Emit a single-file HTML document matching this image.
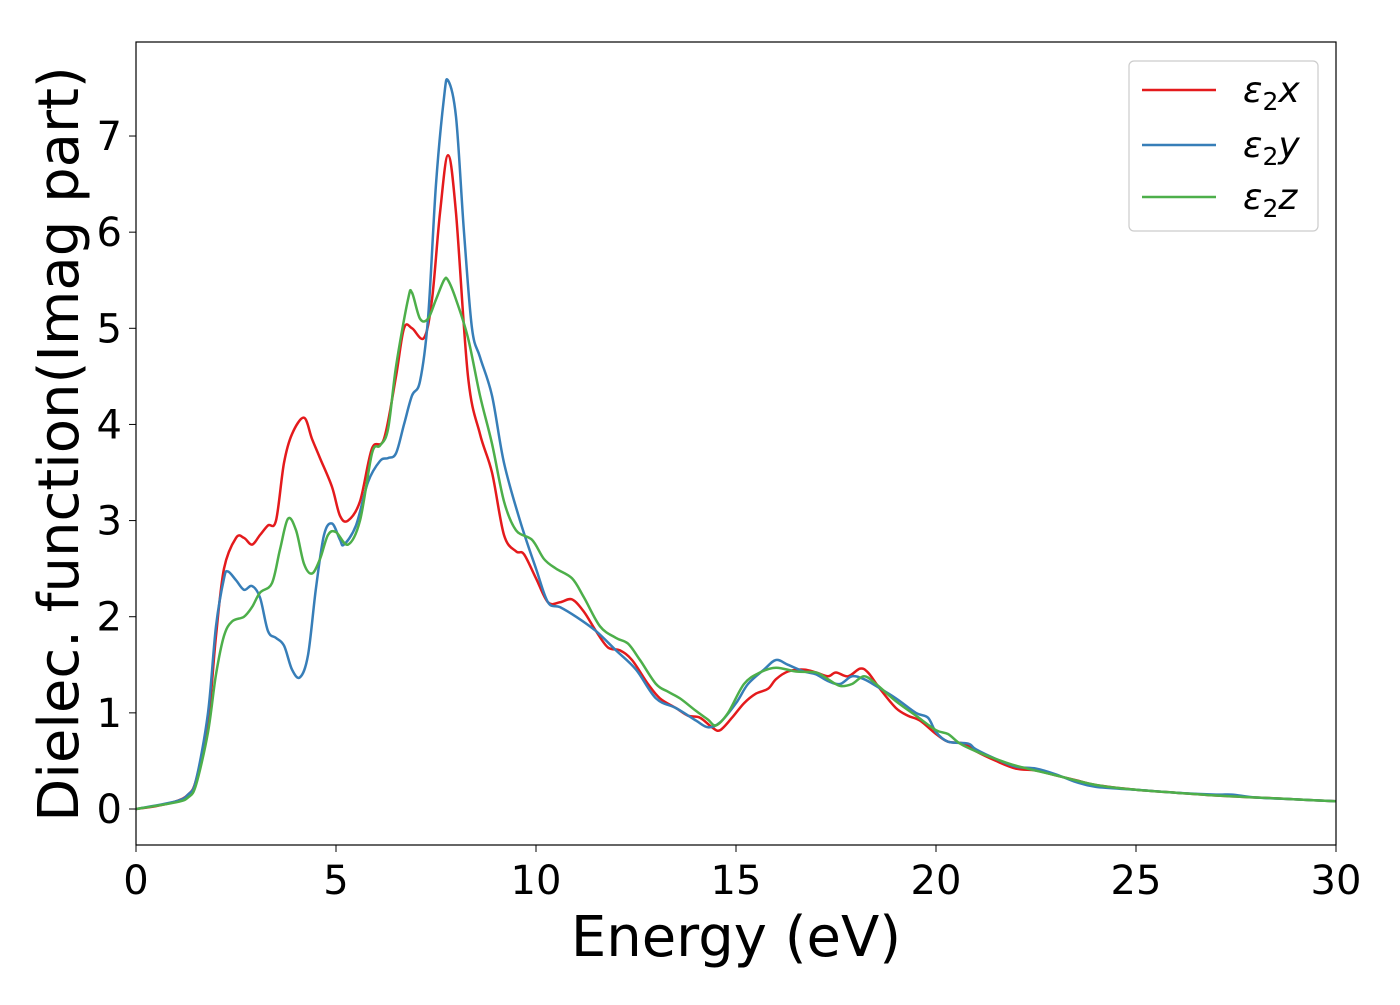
<!DOCTYPE html>
<html><head><meta charset="utf-8"><style>
body{margin:0;background:#fff;}
svg text{font-family:"DejaVu Sans","Liberation Sans",sans-serif;fill:#000;}
</style></head><body>
<svg id="chart" width="1400" height="1000" xmlns="http://www.w3.org/2000/svg">
<rect x="0" y="0" width="1400" height="1000" fill="#fff"/>
<g id="grid"></g>
<g id="series"></g>
<rect x="136" y="42" width="1200" height="803" fill="none" stroke="#000" stroke-width="1.2"/>
<g id="xticks"></g>
<g id="yticks"></g>
<text x="736" y="956" font-size="56" text-anchor="middle">Energy (eV)</text>
<text transform="translate(78,444) rotate(-90)" font-size="56" text-anchor="middle">Dielec. function(Imag part)</text>
<g>
<rect x="1129" y="61" width="189" height="170" rx="5" fill="#fff" stroke="#ccc" stroke-width="1.2"/>
<line x1="1142" y1="90" x2="1216" y2="90" stroke="#e41a1c" stroke-width="2.5"/>
<text x="1243" y="102" font-size="36" font-style="italic">ε<tspan font-size="25" dy="8" font-style="normal">2</tspan><tspan dy="-8">x</tspan></text>
<line x1="1142" y1="145" x2="1216" y2="145" stroke="#377eb8" stroke-width="2.5"/>
<text x="1243" y="157" font-size="36" font-style="italic">ε<tspan font-size="25" dy="8" font-style="normal">2</tspan><tspan dy="-8">y</tspan></text>
<line x1="1142" y1="197" x2="1216" y2="197" stroke="#4daf4a" stroke-width="2.5"/>
<text x="1243" y="209" font-size="36" font-style="italic">ε<tspan font-size="25" dy="8" font-style="normal">2</tspan><tspan dy="-8">z</tspan></text>
</g>
</svg>
<script>
const xTicks=[0,5,10,15,20,25,30];
const yTicks=[0,1,2,3,4,5,6,7];
const eX=[0,0.5,1,1.3,1.5,1.8,2.0,2.2,2.5,2.7,2.9,3.1,3.3,3.5,3.7,3.9,4.2,4.4,4.6,4.9,5.1,5.3,5.6,5.9,6.2,6.5,6.7,6.9,7.2,7.4,7.6,7.8,8.0,8.3,8.6,8.9,9.2,9.5,9.7,10,10.3,10.6,10.9,11.2,11.5,11.8,12.1,12.4,12.8,13.1,13.5,13.8,14.1,14.4,14.6,14.9,15.2,15.5,15.8,16,16.3,16.7,17,17.3,17.5,17.8,18.1,18.3,18.6,19,19.3,19.6,20,20.3,20.7,21,21.5,22,22.5,23,23.5,24,25,26,27,28,29,30];
const vX=[0,0.03,0.08,0.15,0.3,0.9,1.8,2.5,2.82,2.82,2.75,2.85,2.95,3.0,3.6,3.9,4.07,3.85,3.65,3.35,3.05,3.0,3.2,3.75,3.85,4.5,5.0,5.0,4.9,5.3,6.2,6.8,6.2,4.5,3.9,3.5,2.85,2.68,2.65,2.4,2.15,2.15,2.18,2.05,1.85,1.68,1.65,1.55,1.3,1.15,1.05,0.97,0.95,0.85,0.82,0.95,1.1,1.2,1.25,1.35,1.43,1.45,1.42,1.38,1.42,1.38,1.46,1.42,1.25,1.05,0.97,0.92,0.78,0.7,0.68,0.6,0.5,0.42,0.4,0.35,0.3,0.25,0.2,0.17,0.14,0.12,0.1,0.08];
const eY=[0,1,1.3,1.5,1.8,2.0,2.2,2.3,2.5,2.7,2.9,3.1,3.3,3.5,3.7,3.9,4.1,4.3,4.5,4.7,4.9,5.1,5.2,5.5,5.8,6.1,6.3,6.5,6.7,6.9,7.1,7.3,7.5,7.7,7.8,8.0,8.2,8.4,8.6,8.9,9.2,9.6,10,10.3,10.6,11,11.5,12,12.5,13,13.5,14,14.3,14.6,15,15.3,15.7,16,16.3,16.7,17,17.3,17.6,17.9,18.2,18.5,19,19.5,19.8,20,20.3,20.8,21,21.5,22,22.5,23,23.5,24,25,26,27,27.4,28,29,30];
const vY=[0,0.08,0.15,0.3,1.0,1.9,2.4,2.47,2.38,2.28,2.32,2.2,1.85,1.78,1.7,1.45,1.37,1.6,2.3,2.85,2.97,2.8,2.75,2.95,3.4,3.62,3.65,3.7,4.0,4.3,4.45,5.1,6.5,7.4,7.58,7.2,6.0,5.0,4.7,4.3,3.6,3.0,2.5,2.15,2.1,2.0,1.85,1.65,1.45,1.15,1.05,0.92,0.85,0.9,1.1,1.3,1.45,1.55,1.5,1.43,1.4,1.33,1.3,1.38,1.35,1.28,1.15,1.0,0.95,0.8,0.7,0.68,0.62,0.52,0.44,0.42,0.36,0.28,0.23,0.2,0.17,0.15,0.15,0.12,0.1,0.08];
const eZ=[0,1,1.3,1.5,1.8,2.0,2.2,2.4,2.7,2.9,3.1,3.4,3.6,3.8,4.0,4.2,4.4,4.6,4.8,5.0,5.3,5.6,5.9,6.1,6.3,6.5,6.8,6.9,7.1,7.3,7.5,7.7,7.8,8.0,8.3,8.6,8.9,9.2,9.5,9.9,10.2,10.5,10.9,11.2,11.6,12,12.3,12.6,13,13.3,13.6,14,14.3,14.5,14.8,15.2,15.6,16,16.5,17,17.3,17.6,17.9,18.2,18.5,19,19.5,20,20.3,20.6,21,21.5,22,23,24,25,26,27,28,29,30];
const vZ=[0,0.07,0.12,0.25,0.8,1.4,1.8,1.95,2.0,2.1,2.25,2.35,2.7,3.02,2.9,2.55,2.45,2.6,2.85,2.88,2.75,3.0,3.7,3.78,3.95,4.6,5.3,5.37,5.1,5.1,5.3,5.5,5.5,5.3,4.9,4.3,3.8,3.2,2.9,2.8,2.6,2.5,2.4,2.2,1.9,1.78,1.72,1.55,1.3,1.22,1.15,1.02,0.93,0.87,1.0,1.3,1.42,1.47,1.43,1.42,1.35,1.28,1.3,1.38,1.3,1.12,0.97,0.82,0.78,0.68,0.6,0.52,0.45,0.35,0.25,0.2,0.17,0.14,0.12,0.1,0.08];

const X0=136,PXE=40,Y0=809,PYU=96.14;
function sx(e){return X0+e*PXE;}
function sy(v){return Y0-v*PYU;}
const NS="http://www.w3.org/2000/svg";
function path(es,vs){
  const p=es.map((e,i)=>[sx(e),sy(vs[i])]);
  let d="M"+p[0][0]+","+p[0][1];
  for(let i=0;i<p.length-1;i++){
    const a=p[i-1]||p[i],b=p[i],c=p[i+1],n=p[i+2]||c;
    const c1=[b[0]+(c[0]-a[0])/6,b[1]+(c[1]-a[1])/6];
    const c2=[c[0]-(n[0]-b[0])/6,c[1]-(n[1]-b[1])/6];
    d+=` C${c1[0].toFixed(1)},${c1[1].toFixed(1)} ${c2[0].toFixed(1)},${c2[1].toFixed(1)} ${c[0].toFixed(1)},${c[1].toFixed(1)}`;
  }
  return d;
}
const g=document.getElementById("series");
[[eX,vX,"#e41a1c","series-eps2-x"],[eY,vY,"#377eb8","series-eps2-y"],[eZ,vZ,"#4daf4a","series-eps2-z"]].forEach(s=>{
  const el=document.createElementNS(NS,"path");
  el.setAttribute("d",path(s[0],s[1]));
  el.setAttribute("fill","none");el.setAttribute("stroke",s[2]);el.setAttribute("stroke-width","2.5");
  
  
  g.appendChild(el);
});
const xt=document.getElementById("xticks");
xTicks.forEach(t=>{
  const l=document.createElementNS(NS,"line");
  l.setAttribute("x1",sx(t));l.setAttribute("x2",sx(t));l.setAttribute("y1",845);l.setAttribute("y2",852);l.setAttribute("stroke","#000");
  
  
  xt.appendChild(l);
  const tx=document.createElementNS(NS,"text");
  tx.setAttribute("x",sx(t));tx.setAttribute("y",894);tx.setAttribute("font-size","40");tx.setAttribute("text-anchor","middle");
  tx.textContent=t;
  
  
  xt.appendChild(tx);
});
const yt=document.getElementById("yticks");
yTicks.forEach(t=>{
  const l=document.createElementNS(NS,"line");
  l.setAttribute("x1",129);l.setAttribute("x2",136);l.setAttribute("y1",sy(t));l.setAttribute("y2",sy(t));l.setAttribute("stroke","#000");
  
  
  yt.appendChild(l);
  const tx=document.createElementNS(NS,"text");
  tx.setAttribute("x",122);tx.setAttribute("y",sy(t)+14);tx.setAttribute("font-size","40");tx.setAttribute("text-anchor","end");
  tx.textContent=t;
  
  
  yt.appendChild(tx);
});
</script>
</body></html>
